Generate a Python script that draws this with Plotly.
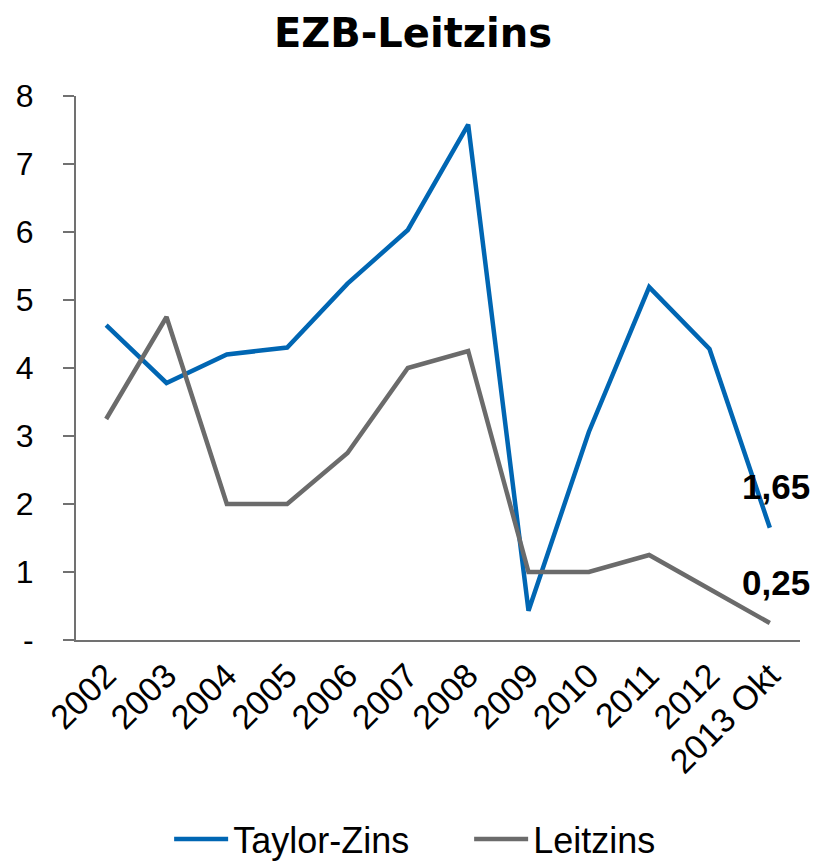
import plotly.graph_objects as go

categories = ["2002", "2003", "2004", "2005", "2006", "2007", "2008",
              "2009", "2010", "2011", "2012", "2013 Okt"]
taylor = [4.63, 3.78, 4.20, 4.30, 5.24, 6.03, 7.58, 0.43, 3.06, 5.19, 4.28, 1.65]
leitzins = [3.25, 4.75, 2.00, 2.00, 2.75, 4.00, 4.25, 1.00, 1.00, 1.25, 0.75, 0.25]
ytick_vals = [0, 1, 2, 3, 4, 5, 6, 7, 8]
ytick_text = ["-", "1", "2", "3", "4", "5", "6", "7", "8"]

BLUE = "#0066b3"
GRAY = "#6b6b6b"
AXIS = "#717171"
FONT = "Liberation Sans, Arial, sans-serif"

fig = go.Figure()
fig.add_trace(go.Scatter(x=categories, y=taylor, mode="lines", name="Taylor-Zins",
                         line=dict(color=BLUE, width=4.5)))
fig.add_trace(go.Scatter(x=categories, y=leitzins, mode="lines", name="Leitzins",
                         line=dict(color=GRAY, width=4.5)))

for series in (taylor, leitzins):
    v = series[-1]
    fig.add_annotation(x=categories[-1], y=v, text="<b>" + f"{v:.2f}".replace(".", ",") + "</b>",
                       showarrow=False, xanchor="center", yanchor="middle",
                       xshift=6, yshift=41, font=dict(size=35, color="black", family=FONT))

fig.update_layout(
    width=810, height=855,
    paper_bgcolor="white", plot_bgcolor="white",
    margin=dict(l=68, r=18, t=88, b=223, autoexpand=False),
    title=dict(text="<b>EZB-Leitzins</b>", x=0.5, xanchor="center",
               y=0.971, yanchor="middle",
               font=dict(size=40, color="black", family="DejaVu Sans, sans-serif")),
    font=dict(family=FONT, color="black"),
    showlegend=True,
    legend=dict(orientation="h", x=0.543, xanchor="center",
                y=-0.366, yanchor="middle", entrywidth=231, itemwidth=54,
                font=dict(size=36, color="black", family=FONT),
                tracegroupgap=0),
)
fig.update_xaxes(showline=True, linecolor=AXIS, linewidth=2, showgrid=False,
                 ticks="", tickangle=-45, tickfont=dict(size=34, color="black", family=FONT),
                 range=[-0.5, len(categories) - 0.5], fixedrange=True, automargin=False)
fig.update_yaxes(showline=True, linecolor=AXIS, linewidth=2, showgrid=False, zeroline=False,
                 range=[0, 8], tickvals=ytick_vals, ticktext=ytick_text,
                 ticks="outside", ticklen=11, tickcolor=AXIS, tickwidth=2,
                 ticklabelstandoff=23, automargin=False,
                 tickfont=dict(size=32, color="black", family=FONT), fixedrange=True)

fig.write_html("out.html")
